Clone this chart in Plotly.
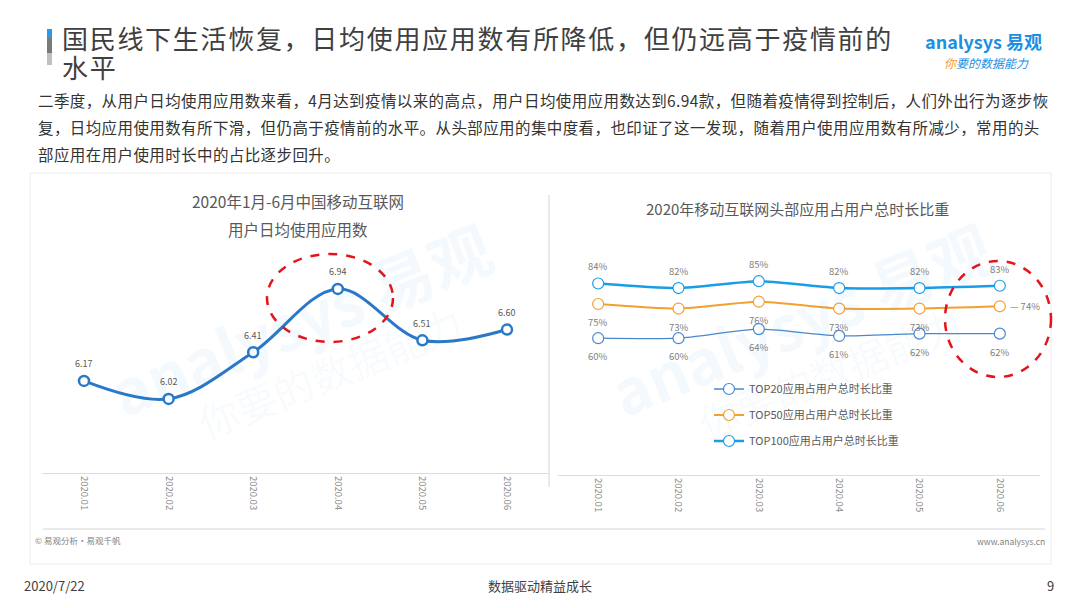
import plotly.graph_objects as go

# ---------------- data ----------------
months = ["2020.01", "2020.02", "2020.03", "2020.04", "2020.05", "2020.06"]
daily_apps = [6.17, 6.02, 6.41, 6.94, 6.51, 6.60]

top20 = [60, 60, 64, 61, 62, 62]
top50 = [75, 73, 76, 73, 73, 74]
top100 = [84, 82, 85, 82, 82, 83]

series_names = ["TOP20应用占用户总时长比重", "TOP50应用占用户总时长比重", "TOP100应用占用户总时长比重"]

title_main_1 = "国民线下生活恢复，日均使用应用数有所降低，但仍远高于疫情前的"
title_main_2 = "水平"
para_lines = [
    "二季度，从用户日均使用应用数来看，4月达到疫情以来的高点，用户日均使用应用数达到6.94款，但随着疫情得到控制后，人们外出行为逐步恢",
    "复，日均应用使用数有所下滑，但仍高于疫情前的水平。从头部应用的集中度看，也印证了这一发现，随着用户使用应用数有所减少，常用的头",
    "部应用在用户使用时长中的占比逐步回升。",
]
left_title = ["2020年1月-6月中国移动互联网", "用户日均使用应用数"]
right_title = "2020年移动互联网头部应用占用户总时长比重"

# page body has an 8px margin: figure is drawn 8px in from the window corner
OFF = 8
W, H = 1080 - 2 * OFF, 608 - 2 * OFF
FONT = "Noto Sans CJK SC"


def px(x):
    return (x - OFF) / W


def py(y):
    return 1 - (y - OFF) / H


fig = go.Figure()

# left chart
fig.add_trace(go.Scatter(
    x=months, y=daily_apps, mode="lines+markers",
    line=dict(color="#2a78c8", width=3, shape="spline", smoothing=1.0),
    marker=dict(size=10, color="white", line=dict(color="#2a78c8", width=2.5)),
    xaxis="x", yaxis="y", showlegend=False, cliponaxis=False, hoverinfo="skip",
))

# right chart
colors = ["#4a88cc", "#f2a12e", "#1a9de6"]
widths = [1.3, 2.0, 2.6]
vals = [top20, top50, top100]
legends = ["legend", "legend2", "legend3"]
for i, (name, v) in enumerate(zip(series_names, vals)):
    fig.add_trace(go.Scatter(
        x=months, y=v, name=name, mode="lines+markers",
        line=dict(color=colors[i], width=widths[i], shape="spline", smoothing=0.6),
        marker=dict(size=11, color="white", line=dict(color=colors[i], width=1.2)),
        xaxis="x2", yaxis="y2", legend=legends[i], cliponaxis=False, hoverinfo="skip",
    ))

axis_common = dict(showgrid=False, zeroline=False, ticks="", fixedrange=True, type="category")

fig.update_layout(
    width=W, height=H, margin=dict(l=0, r=0, t=0, b=0),
    paper_bgcolor="white", plot_bgcolor="rgba(0,0,0,0)",
    font=dict(family=FONT, color="#595959"),
    xaxis=dict(domain=[px(41.7), px(549.3)], range=[-0.5, 5.5], showline=True,
               linecolor="#dcdcdc", linewidth=1, tickangle=90,
               tickfont=dict(size=9.5, color="#8c8c8c"), anchor="y", **axis_common),
    yaxis=dict(domain=[py(473), py(210)], range=[5.4, 7.6], visible=False, anchor="x",
               showgrid=False, zeroline=False, fixedrange=True),
    xaxis2=dict(domain=[px(558), px(1040)], range=[-0.5, 5.5], showline=True,
                linecolor="#dcdcdc", linewidth=1, tickangle=90,
                tickfont=dict(size=9.5, color="#8c8c8c"), anchor="y2", **axis_common),
    yaxis2=dict(domain=[py(475), py(247)], range=[0, 100], visible=False, anchor="x2",
                showgrid=False, zeroline=False, fixedrange=True),
)

leg_common = dict(xanchor="left", yanchor="middle", bgcolor="rgba(0,0,0,0)",
                  font=dict(size=11, color="#595959", family=FONT), itemwidth=30)
fig.update_layout(
    legend=dict(x=px(709), y=py(389), **leg_common),
    legend2=dict(x=px(709), y=py(415), **leg_common),
    legend3=dict(x=px(709), y=py(441), **leg_common),
)

shapes = []
# outer panel
shapes.append(dict(type="rect", xref="paper", yref="paper", x0=px(30), x1=px(1051),
                   y0=py(564), y1=py(173), line=dict(color="#ececec", width=1), layer="below"))
# divider
shapes.append(dict(type="line", xref="paper", yref="paper", x0=px(549), x1=px(549),
                   y0=py(487), y1=py(195), line=dict(color="#d4d4d4", width=1)))
# bottom line
shapes.append(dict(type="line", xref="paper", yref="paper", x0=px(43), x1=px(1045),
                   y0=py(529), y1=py(529), line=dict(color="#e3e3e3", width=1.5)))
# title bar
for (y0, y1, c) in [(29, 38, "#2d9ae8"), (38, 53, "#7a7a7a"), (53, 65, "#c0c0c0")]:
    shapes.append(dict(type="rect", xref="paper", yref="paper", x0=px(47), x1=px(52),
                       y0=py(y1), y1=py(y0), fillcolor=c, line=dict(width=0)))
# red dashed ellipses
shapes.append(dict(type="circle", xref="paper", yref="paper", x0=px(267), x1=px(393),
                   y0=py(342), y1=py(254), line=dict(color="#e3141c", width=2.5, dash="dash")))
shapes.append(dict(type="circle", xref="paper", yref="paper", x0=px(945), x1=px(1051),
                   y0=py(377), y1=py(261), line=dict(color="#e3141c", width=2.5, dash="dash")))
fig.update_layout(shapes=shapes)

ann = []


def text(x, y, t, size, color="#595959", xanchor="left", yanchor="middle", **kw):
    ann.append(dict(x=px(x), y=py(y), xref="paper", yref="paper", text=t, showarrow=False,
                    xanchor=xanchor, yanchor=yanchor,
                    font=dict(size=size, color=color, family=FONT), **kw))


def label(xi, yv, t, xa, ya, yshift=0, xshift=0, xanchor="center", size=9.5, color="#7f7f7f"):
    ann.append(dict(x=xi, y=yv, xref=xa, yref=ya, text=t, showarrow=False,
                    xanchor=xanchor, yanchor="middle", yshift=yshift, xshift=xshift,
                    font=dict(size=size, color=color, family=FONT)))


# watermarks
text(300, 318, "<b>analysys 易观</b>", 62, "rgba(40,140,220,0.05)", xanchor="center", textangle=-22)
text(330, 372, "你要的数据能力", 40, "rgba(40,140,220,0.045)", xanchor="center", textangle=-22)
text(800, 318, "<b>analysys 易观</b>", 62, "rgba(40,140,220,0.05)", xanchor="center", textangle=-22)
text(830, 372, "你要的数据能力", 40, "rgba(40,140,220,0.045)", xanchor="center", textangle=-22)

# data labels (positioned from the data through the axes; x = category index)
for j, v in enumerate(daily_apps):
    label(j, v, f"{v:.2f}", "x", "y", yshift=17, size=9, color="#595959")
for j, v in enumerate(top100):
    label(j, v, f"{v}%", "x2", "y2", yshift=17)
for j, v in enumerate(top50):
    if j == len(top50) - 1:
        label(j, v, f"— {v}%", "x2", "y2", xshift=8, xanchor="left")
    else:
        label(j, v, f"{v}%", "x2", "y2", yshift=-18)
for j, v in enumerate(top20):
    label(j, v, f"{v}%", "x2", "y2", yshift=-18)

# header (explicit box height keeps the two tight title lines from overlapping)
ls_title = "<span style='letter-spacing:1.7px'>{}</span>"
text(60, 37.5, ls_title.format(title_main_1), 26, "#404040", height=28.5, valign="middle")
text(60, 66.5, ls_title.format(title_main_2), 26, "#404040", height=28.5, valign="middle")
for i, line in enumerate(para_lines):
    text(36, 100 + 27 * i, "<span style='letter-spacing:0.4px'>{}</span>".format(line), 15.5, "#333333")

# logo
text(923, 40.5, "<b>analysys 易观</b>", 18, "#1c8fe3")
text(942, 62.5, "<i><span style='color:#f39a1e'>你</span>要的数据能力</i>", 12, "#1c8fe3")

# chart titles
text(298, 201, left_title[0], 15.5, "#595959", xanchor="center")
text(298, 229, left_title[1], 15.5, "#595959", xanchor="center")
text(798, 209, right_title, 15, "#595959", xanchor="center")

# footers
text(33, 540, "© 易观分析·易观千帆", 8.5, "#7f7f7f")
text(1047, 541, "www.analysys.cn", 8.5, "#7f7f7f", xanchor="right")
text(22, 585, "2020/7/22", 13, "#404040")
text(540, 585, "数据驱动精益成长", 13, "#404040", xanchor="center")
text(1056, 585, "9", 13, "#404040", xanchor="right")

fig.update_layout(annotations=ann)

fig.write_html("out.html", config={"displayModeBar": False})
